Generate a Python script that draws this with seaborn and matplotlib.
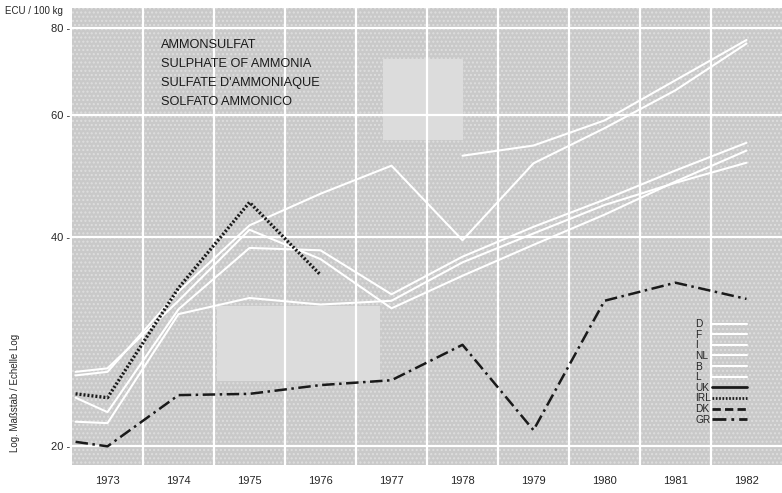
import numpy as np
import pandas as pd
import matplotlib.pyplot as plt
import seaborn as sns
from matplotlib.lines import Line2D
from matplotlib.patches import Rectangle

# Data (ECU / 100 kg), first point = start of 1973
years = [1972.55, 1973, 1974, 1975, 1976, 1977, 1978, 1979, 1980, 1981, 1982]
year_labels = [1973, 1974, 1975, 1976, 1977, 1978, 1979, 1980, 1981, 1982]
nan = np.nan
d_vals = [nan, nan, nan, nan, nan, nan, 52.4, 54.2, 58.9, 67.3, 76.9]
f_vals = [25.3, 25.6, 33.4, 41.6, 46.2, 50.7, 39.6, 51.1, 57.4, 65.1, 76.0]
i_vals = [25.6, 25.9, 32.4, 41.0, 37.2, 31.6, 35.2, 39.0, 43.1, 48.1, 53.3]
nl_vals = [23.5, 22.4, 31.5, 38.6, 38.3, 33.1, 37.5, 41.4, 45.3, 49.9, 54.7]
b_vals = [21.7, 21.6, 31.0, 32.7, 32.0, 32.4, 36.8, 40.5, 44.5, 47.9, 51.2]
irl_vals = [23.8, 23.5, 33.8, 44.9, 35.3, nan, nan, nan, nan, nan, nan]
gr_vals = [20.3, 20.0, 23.7, 23.8, 24.5, 24.9, 28.0, 21.1, 32.4, 34.4, 32.6]

title_lines = ["AMMONSULFAT", "SULPHATE OF AMMONIA", "SULFATE D'AMMONIAQUE", "SOLFATO AMMONICO"]
legend_labels = ["D", "F", "I", "NL", "B", "L", "UK", "IRL", "DK", "GR"]
yticks = [20, 40, 60, 80]

sns.set_theme(style="white")
plt.rcParams['font.family'] = ['Liberation Sans Narrow', 'Liberation Sans', 'DejaVu Sans']

fig = plt.figure(figsize=(7.82, 4.93), dpi=100)
ax = fig.add_axes([72/782, 28/493, 710/782, 457/493])
ax.set_facecolor('#c9c9c9')

ax.set_yscale('log')
ax.set_xlim(1972.5, 1982.5)
ax.set_ylim(18.8, 85.5)

# speckled paper texture
ax.add_patch(Rectangle((0, 0), 1, 1, transform=ax.transAxes, facecolor='none',
                       edgecolor='#dedede', hatch='....', lw=0, zorder=0))

# light blank patches of the scan
ax.add_patch(Rectangle((1974.54, 24.8), 2.3, 7.0, facecolor='#dcdcdc', lw=0, zorder=1))
ax.add_patch(Rectangle((1976.88, 55.2), 1.12, 16.9, facecolor='#dcdcdc', lw=0, zorder=1))

# grid
for gx in np.arange(1973.5, 1982, 1):
    ax.axvline(gx, color='white', lw=1.6, zorder=1.5)
for gy in yticks:
    ax.axhline(gy, color='white', lw=1.6, zorder=1.5)

df = pd.DataFrame({'year': years, 'D': d_vals, 'F': f_vals, 'I': i_vals, 'NL': nl_vals,
                   'B': b_vals, 'IRL': irl_vals, 'GR': gr_vals})

for col in ['D', 'F', 'I', 'NL', 'B']:
    sub = df[['year', col]].dropna()
    sns.lineplot(data=sub, x='year', y=col, ax=ax, color='white', lw=1.5, zorder=3)

sub = df[['year', 'IRL']].dropna()
sns.lineplot(data=sub, x='year', y='IRL', ax=ax, color='#1a1a1a', lw=2.4,
             linestyle=(0, (0.6, 0.6)), zorder=4)
sns.lineplot(data=df, x='year', y='GR', ax=ax, color='#1a1a1a', lw=1.8,
             linestyle=(0, (5, 1.8, 1, 1.8)), zorder=4)

ax.set_yticks(yticks)
ax.set_yticklabels([f"{t} -" for t in yticks], fontsize=8)
ax.yaxis.set_minor_locator(plt.NullLocator())
ax.set_xticks(year_labels)
ax.set_xticklabels([str(y) for y in year_labels], fontsize=8)
ax.tick_params(axis='both', length=0)
ax.tick_params(axis='x', pad=8)
ax.tick_params(axis='y', pad=1)
ax.set_xlabel('')
ax.set_ylabel('')
for s in ax.spines.values():
    s.set_visible(False)

for k, line in enumerate(title_lines):
    ax.text(0.126, 0.918 - k * 0.041, line, transform=ax.transAxes, fontsize=9.2,
            va='center', ha='left', color='#1a1a1a')

fig.text(5/782, 1 - 11/493, "ECU / 100 kg", fontsize=7, va='center', ha='left')
fig.text(15/782, 1 - 393/493, "Log. Maßstab / Echelle Log", fontsize=7, rotation=90,
         va='center', ha='center')

# legend: left-aligned labels, keys to the right
styles = {'UK': '-', 'IRL': (0, (0.6, 0.6)), 'DK': (0, (3, 1.5)), 'GR': (0, (5, 1.8, 1, 1.8))}
handles = []
for lab in legend_labels:
    if lab in styles:
        handles.append(Line2D([], [], color='#1a1a1a', lw=2.0, linestyle=styles[lab]))
    else:
        handles.append(Line2D([], [], color='white', lw=1.5))
blank = [Line2D([], [], alpha=0) for _ in legend_labels]
leg_txt = ax.legend(blank, legend_labels, loc='upper left', bbox_to_anchor=(0.878, 0.319),
                    frameon=False, fontsize=7.3, handlelength=0, handletextpad=0,
                    labelspacing=0.06, borderaxespad=0, borderpad=0)
ax.add_artist(leg_txt)
ax.legend(handles, [' '] * len(handles), loc='upper left', bbox_to_anchor=(0.902, 0.319),
          frameon=False, fontsize=7.3, handlelength=3.4, handletextpad=0,
          labelspacing=0.06, borderaxespad=0, borderpad=0)

fig.savefig('out.png', dpi=100)
